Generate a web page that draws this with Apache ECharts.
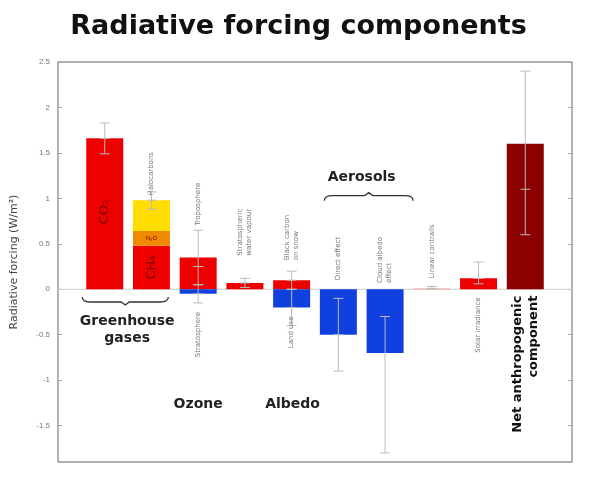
<!DOCTYPE html>
<html><head><meta charset="utf-8">
<script src="https://cdn.jsdelivr.net/npm/echarts@6/dist/echarts.min.js"></script>
<style>html,body{margin:0;padding:0;background:#fff}#c{width:597px;height:480px}</style>
</head><body><div id="c"></div>
<script>
// bar segments
const segX    = [1,    2,    2,    2,    3,    3,     4,    5,    5,    6,    7,    8,     9,    10];
const segLow  = [0,    0,    0.48, 0.64, 0,    -0.05, 0,    0,    -0.2, -0.5, -0.7, 0,     0,    0];
const segHigh = [1.66, 0.48, 0.64, 0.98, 0.35, 0,     0.07, 0.1,  0,    0,    0,    0.01,  0.12, 1.6];
const segKind = ['ghg','ghg','n2o','halo','pos','neg','pos','pos','neg','neg','neg','contrail','pos','net'];
// error bars
const errX    = [1,    2,    3,    3,    4,    5,    5,    6,    7,    8,     9,    10];
const errLow  = [1.49, 0.88, 0.05, -0.15,0.02, 0,    -0.4, -0.9, -1.8, 0.003, 0.06, 0.6];
const errHigh = [1.83, 1.07, 0.65, 0.05, 0.12, 0.2,  0,    -0.1, -0.3, 0.03,  0.3,  2.4];
const errMid  = [1.66, 0.98, 0.25, -0.05,0.07, 0.1,  -0.2, -0.5, -0.3, 0.01,  0.12, 1.1];
// rotated component labels (above: text starts at y and goes up; below: text ends at y)
const labText = ['Halocarbons','Troposphere','Stratospheric\nwater vapour','Black carbon\non snow','Direct effect','Cloud albedo\neffect','Linear contrails','Stratosphere','Land use','Solar irradiance'];
const labX    = [2,    3,    4,    5,    6,    7,    8,    3,     5,    9];
const labY    = [1.03, 0.7,  0.37, 0.32, 0.1,  0.07, 0.12, -0.25, -0.3, -0.09];
const labSide = ['up','up','up','up','up','up','up','down','down','down'];
// group labels
const grpText = ['Greenhouse\ngases','Ozone','Albedo','Aerosols'];
const grpX    = [1.48, 3, 5.02, 6.5];
const grpY    = [-0.45, -1.27, -1.27, 1.23];
const yTicks  = [-1.5,-1,-0.5,0,0.5,1,1.5,2,2.5];
const yTickLabels = ['-1.5','-1','-0.5','0','0.5','1','1.5','2','2.5'];

const colors = {ghg:'#ee0000',n2o:'#f08a00',halo:'#ffdd00',pos:'#ee0000',neg:'#1040e0',contrail:'#f6b8b8',net:'#8b0000'};

const chart = echarts.init(document.getElementById('c'));
const segData = segX.map((x,i)=>[x,segLow[i],segHigh[i],i]);
const errData = errX.map((x,i)=>[x,errLow[i],errHigh[i],errMid[i]]);
const labData = labX.map((x,i)=>[x,labY[i],i]);
const grpData = grpX.map((x,i)=>[x,grpY[i],i]);

chart.setOption({
  animation:false,
  title:{text:'Radiative forcing components',left:'center',top:8,textStyle:{fontFamily:'DejaVu Sans',fontSize:27,fontWeight:'bold',color:'#111'}},
  grid:{left:58,right:25,top:62,bottom:18,show:true,borderColor:'#999',borderWidth:1.5},
  xAxis:{type:'value',min:0,max:11,show:false},
  yAxis:[{type:'value',min:-1.9,max:2.5,
    name:'Radiative forcing (W/m²)',nameLocation:'middle',nameGap:38,nameTextStyle:{fontSize:11,color:'#444',fontFamily:'DejaVu Sans'},
    axisLine:{show:false},splitLine:{show:false},
    axisTick:{show:true,inside:true,length:4,lineStyle:{color:'#aaa'},customValues:yTicks},
    axisLabel:{fontSize:8,color:'#777',customValues:yTicks,formatter:v=>yTickLabels[yTicks.indexOf(Math.round(v*10)/10)]||''}},
   {type:'value',min:-1.9,max:2.5,position:'right',axisLine:{show:false},splitLine:{show:false},axisLabel:{show:false},
    axisTick:{show:true,inside:true,length:4,lineStyle:{color:'#aaa'},customValues:yTicks}}],
  series:[
    {type:'custom',data:[[0,0],[11,0]],z:1,renderItem:(p,api)=>{
      if(p.dataIndex) return null;
      const a=api.coord([0,0]),b=api.coord([11,0]);
      return {type:'line',shape:{x1:a[0],y1:a[1],x2:b[0],y2:b[1]},style:{stroke:'#ccc',lineWidth:1}};
    }},
    {type:'custom',data:segData,z:2,renderItem:(p,api)=>{
      const x=api.value(0),lo=api.value(1),hi=api.value(2),k=segKind[api.value(3)];
      const a=api.coord([x,hi]),b=api.coord([x,lo]);
      const w=37;
      return {type:'rect',shape:{x:a[0]-w/2,y:a[1],width:w,height:Math.max(b[1]-a[1],1.5)},style:{fill:colors[k]}};
    }},
    {type:'custom',data:errData,z:3,renderItem:(p,api)=>{
      const x=api.value(0);
      const lo=api.coord([x,api.value(1)]),hi=api.coord([x,api.value(2)]),m=api.coord([x,api.value(3)]);
      const st={stroke:'#bbb',lineWidth:1};
      const c=5;
      return {type:'group',children:[
        {type:'line',shape:{x1:lo[0],y1:lo[1],x2:hi[0],y2:hi[1]},style:st},
        {type:'line',shape:{x1:lo[0]-c,y1:lo[1],x2:lo[0]+c,y2:lo[1]},style:st},
        {type:'line',shape:{x1:hi[0]-c,y1:hi[1],x2:hi[0]+c,y2:hi[1]},style:st},
        {type:'line',shape:{x1:m[0]-c,y1:m[1],x2:m[0]+c,y2:m[1]},style:st}]};
    }},
    {type:'custom',data:labData,z:4,renderItem:(p,api)=>{
      const i=api.value(2),pt=api.coord([api.value(0),api.value(1)]);
      return {type:'text',x:pt[0],y:pt[1],rotation:Math.PI/2,style:{text:labText[i],fontSize:7,fill:'#777',fontFamily:'DejaVu Sans',
        align:labSide[i]==='up'?'left':'right',verticalAlign:'middle',lineHeight:9}};
    }},
    {type:'custom',data:grpData,z:4,renderItem:(p,api)=>{
      const i=api.value(2),pt=api.coord([api.value(0),api.value(1)]);
      return {type:'text',x:pt[0],y:pt[1],style:{text:grpText[i],fontSize:14,fontWeight:'bold',fill:'#222',fontFamily:'DejaVu Sans',align:'center',verticalAlign:'middle',lineHeight:17}};
    }},
    {type:'custom',data:[[10,-0.07],[1,0.85],[2,0.24],[2,0.56]],z:5,renderItem:(p,api)=>{
      const pt=api.coord([api.value(0),api.value(1)]),i=p.dataIndex;
      if(i===0) return {type:'text',x:pt[0],y:pt[1],rotation:Math.PI/2,style:{text:'Net anthropogenic\ncomponent',fontSize:13,fontWeight:'bold',fill:'#111',fontFamily:'DejaVu Sans',align:'right',verticalAlign:'middle',lineHeight:16}};
      if(i===3) return {type:'text',x:pt[0],y:pt[1],style:{text:'N₂O',fontSize:6,fill:'#600',align:'center',verticalAlign:'middle'}};
      return {type:'text',x:pt[0],y:pt[1],rotation:Math.PI/2,style:{text:i===1?'CO₂':'CH₄',fontSize:13,fill:'#700',fontFamily:'DejaVu Sans',align:'center',verticalAlign:'middle'}};
    }},
    {type:'custom',data:[[0.52,2.36,-0.14,1],[5.7,7.6,1.03,-1]],z:5,renderItem:(p,api)=>{
      const x0=api.value(0),x1=api.value(1),y=api.value(2),d=api.value(3);
      const a=api.coord([x0,y]),b=api.coord([x1,y]);
      const yy=a[1],h=5*d,mx=(a[0]+b[0])/2;
      const path=`M${a[0]},${yy-h} Q${a[0]},${yy} ${a[0]+8},${yy} L${mx-4},${yy} L${mx},${yy+h*0.6} L${mx+4},${yy} L${b[0]-8},${yy} Q${b[0]},${yy} ${b[0]},${yy-h}`;
      return {type:'path',shape:{pathData:path},style:{stroke:'#333',fill:null,lineWidth:1.3}};
    }}
  ]
});
</script></body></html>
